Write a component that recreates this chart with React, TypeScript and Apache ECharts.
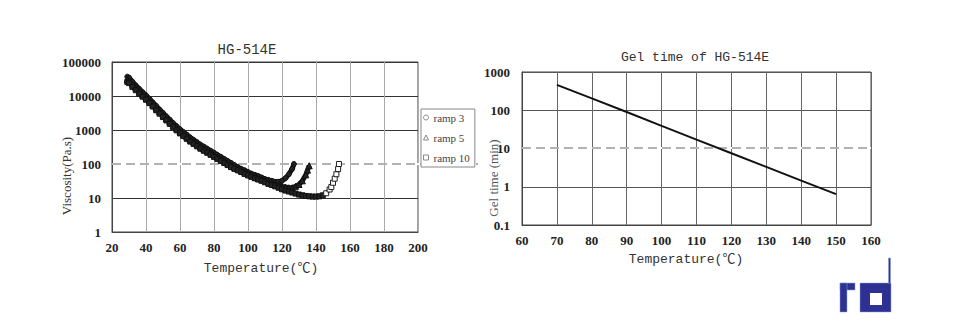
import React, { useEffect, useRef } from "react";
import * as echarts from "echarts";

// ---------- Viscosity chart data (left) ----------
const viscXTicks = [20, 40, 60, 80, 100, 120, 140, 160, 180, 200];
const viscYTicks = ["1", "10", "100", "1000", "10000", "100000"];

const ramp3Temp = [29, 30, 32, 34, 36, 38, 40, 42, 44, 46, 48, 50, 52, 54, 56, 58, 60, 62, 64, 66, 68, 70, 72, 74, 76, 78, 80, 82, 84, 86, 88, 90, 92, 94, 96, 98, 100, 102, 104, 106, 108, 110, 112, 114, 116, 118, 120, 122, 124, 126, 127];
const ramp3Visc = [37000, 34700, 26300, 20400, 16200, 12900, 10500, 8300, 6460, 5130, 3980, 3160, 2510, 2000, 1580, 1290, 1050, 870, 724, 603, 513, 437, 372, 324, 282, 245, 214, 186, 162, 141, 123, 107, 93, 81, 72, 65, 58, 52, 48, 44, 40, 36, 34, 32, 30, 30, 32, 38, 50, 72, 100];

const ramp5Temp = [29, 30, 32, 34, 36, 38, 40, 42, 44, 46, 48, 50, 52, 54, 56, 58, 60, 62, 64, 66, 68, 70, 72, 74, 76, 78, 80, 82, 84, 86, 88, 90, 92, 94, 96, 98, 100, 102, 104, 106, 108, 110, 112, 114, 116, 118, 120, 122, 124, 126, 128, 130, 132, 134, 135, 136];
const ramp5Visc = [31000, 28800, 22400, 17400, 13800, 11200, 9120, 7240, 5620, 4470, 3470, 2750, 2190, 1740, 1380, 1120, 912, 759, 631, 525, 447, 380, 324, 282, 245, 214, 186, 162, 141, 123, 107, 93, 81, 72, 65, 58, 51, 46, 42, 38, 35, 32, 30, 28, 26, 24, 22, 21, 20, 20, 22, 25, 32, 48, 66, 89];

const ramp10Temp = [29, 30, 32, 34, 36, 38, 40, 42, 44, 46, 48, 50, 52, 54, 56, 58, 60, 62, 64, 66, 68, 70, 72, 74, 76, 78, 80, 82, 84, 86, 88, 90, 92, 94, 96, 98, 100, 102, 104, 106, 108, 110, 112, 114, 116, 118, 120, 122, 124, 126, 128, 130, 132, 134, 136, 138, 140, 142, 144, 146, 148, 149, 150, 151, 152, 153, 153.5];
const ramp10Visc = [26000, 24000, 18600, 14800, 11700, 9550, 7760, 6170, 4900, 3800, 3020, 2400, 1910, 1510, 1200, 977, 794, 661, 550, 457, 389, 331, 282, 245, 214, 186, 162, 141, 123, 107, 93, 81, 72, 65, 58, 51, 46, 42, 38, 35, 32, 29, 26, 24, 22, 20, 18, 16.6, 15.5, 14.5, 13.5, 12.6, 12, 11.5, 11.2, 11, 11, 11.2, 12, 13.8, 17.8, 21, 28, 37, 50, 71, 100];

const rampNames = ["ramp 3", "ramp 5", "ramp 10"];

// ---------- Gel time chart data (right) ----------
const gelXTicks = [60, 70, 80, 90, 100, 110, 120, 130, 140, 150, 160];
const gelYTicks = ["0.1", "1", "10", "100", "1000"];
const gelTemp = [70, 80, 90, 100, 110, 120, 130, 140, 150];
const gelTime = [460, 205, 90, 39, 17, 7.5, 3.3, 1.45, 0.64];

const pair = (xs: number[], ys: number[]) => xs.map((x, i) => [x, ys[i]]);

const SERIF = "'Liberation Serif', 'DejaVu Serif', serif";
const MONO = "'Liberation Mono', 'DejaVu Sans Mono', 'Noto Sans CJK SC', monospace";

export default function App() {
  const ref = useRef<HTMLDivElement>(null);

  useEffect(() => {
    document.body.style.margin = "0";
    if (!ref.current) return;
    const chart = echarts.init(ref.current, null, { renderer: "svg" });

    const labelStyle = { fontFamily: SERIF, fontSize: 13, color: "#222", fontWeight: "bold" as const };
    const fmtLog = (ticks: string[]) => (v: number) => {
      const match = ticks.find((t) => Math.abs(parseFloat(t) - v) < 1e-9 * Math.max(1, v));
      return match ?? String(v);
    };

    // ramp 10: the rising (cure) end shows separate hollow squares
    const ramp10Data = ramp10Temp.map((t, i) =>
      t >= 146
        ? { value: [t, ramp10Visc[i]], itemStyle: { color: "#fff", borderColor: "#222", borderWidth: 1 } }
        : { value: [t, ramp10Visc[i]] }
    );

    const option: any = {
      animation: false,
      backgroundColor: "#ffffff",
      grid: [
        { left: 112, top: 62, width: 306, height: 170, show: true, borderColor: "#444", borderWidth: 1, backgroundColor: "transparent" },
        { left: 522, top: 72, width: 349, height: 153, show: true, borderColor: "#444", borderWidth: 1, backgroundColor: "transparent" },
      ],
      xAxis: [
        {
          type: "value", gridIndex: 0, min: viscXTicks[0], max: viscXTicks[viscXTicks.length - 1], interval: 20,
          axisLine: { show: true, lineStyle: { color: "#444" } }, axisTick: { show: false },
          axisLabel: { ...labelStyle, margin: 9 },
          splitLine: { show: true, lineStyle: { color: "#aaa", width: 1 } },
        },
        {
          type: "value", gridIndex: 1, min: gelXTicks[0], max: gelXTicks[gelXTicks.length - 1], interval: 10,
          axisLine: { show: true, lineStyle: { color: "#444" } }, axisTick: { show: false },
          axisLabel: { ...labelStyle, margin: 9 },
          splitLine: { show: true, lineStyle: { color: "#666", width: 1 } },
        },
      ],
      yAxis: [
        {
          type: "log", logBase: 10, gridIndex: 0, min: 1, max: 100000,
          axisLine: { show: true, lineStyle: { color: "#444" } }, axisTick: { show: false },
          axisLabel: { ...labelStyle, margin: 11, formatter: fmtLog(viscYTicks) },
          splitLine: { show: true, lineStyle: { color: "#333", width: 1 } },
        },
        {
          type: "log", logBase: 10, gridIndex: 1, min: 0.1, max: 1000,
          axisLine: { show: true, lineStyle: { color: "#444" } }, axisTick: { show: false },
          axisLabel: { ...labelStyle, margin: 12, formatter: fmtLog(gelYTicks) },
          splitLine: { show: true, lineStyle: { color: "#555", width: 1 } },
        },
      ],
      legend: {
        orient: "vertical", left: 421, top: 109,
        backgroundColor: "#fff", borderColor: "#888", borderWidth: 1,
        padding: [3, 5, 4, 2], itemGap: 9, itemWidth: 5, itemHeight: 5,
        textStyle: { fontFamily: SERIF, fontSize: 11, color: "#444" },
        itemStyle: { color: "#fff", borderColor: "#888", borderWidth: 1 },
        data: [
          { name: rampNames[0], icon: "circle" },
          { name: rampNames[1], icon: "triangle" },
          { name: rampNames[2], icon: "rect" },
        ],
      },
      series: [
        {
          name: rampNames[0], type: "line", xAxisIndex: 0, yAxisIndex: 0,
          data: pair(ramp3Temp, ramp3Visc), symbol: "circle", symbolSize: 5,
          itemStyle: { color: "#222", borderColor: "#111", borderWidth: 1 },
          lineStyle: { color: "#111", width: 5 }, z: 3,
        },
        {
          name: rampNames[1], type: "line", xAxisIndex: 0, yAxisIndex: 0,
          data: pair(ramp5Temp, ramp5Visc), symbol: "triangle", symbolSize: 6,
          itemStyle: { color: "#222", borderColor: "#111", borderWidth: 1 },
          lineStyle: { color: "#111", width: 5 }, z: 3,
        },
        {
          name: rampNames[2], type: "line", xAxisIndex: 0, yAxisIndex: 0,
          data: ramp10Data, symbol: "rect", symbolSize: 5,
          itemStyle: { color: "#222", borderColor: "#111", borderWidth: 1 },
          lineStyle: { color: "#111", width: 4 }, z: 3,
        },
        {
          name: "Gel time", type: "line", xAxisIndex: 1, yAxisIndex: 1,
          data: pair(gelTemp, gelTime), symbol: "none",
          lineStyle: { color: "#111", width: 2 }, z: 3,
        },
      ],
      graphic: [
        // dashed light reference lines
        { type: "line", z: 1, shape: { x1: 112, y1: 164, x2: 478, y2: 164 }, style: { stroke: "#fff", lineWidth: 2 } },
        { type: "line", z: 1, shape: { x1: 112, y1: 164, x2: 478, y2: 164 }, style: { stroke: "#999", lineWidth: 1.5, lineDash: [9, 5] } },
        { type: "line", z: 1, shape: { x1: 522, y1: 148, x2: 871, y2: 148 }, style: { stroke: "#fff", lineWidth: 2 } },
        { type: "line", z: 1, shape: { x1: 522, y1: 148, x2: 871, y2: 148 }, style: { stroke: "#999", lineWidth: 1.5, lineDash: [9, 5] } },
        // titles
        { type: "text", x: 247, y: 50, style: { text: "HG-514E", font: `14px ${MONO}`, fill: "#333", align: "center", verticalAlign: "middle" } },
        { type: "text", x: 695, y: 57, style: { text: "Gel time of HG-514E", font: `13px ${MONO}`, fill: "#333", align: "center", verticalAlign: "middle" } },
        // axis names
        { type: "text", x: 261, y: 268, style: { text: "Temperature(℃)", font: `13px ${MONO}`, fill: "#333", align: "center", verticalAlign: "middle" } },
        { type: "text", x: 686, y: 259, style: { text: "Temperature(℃)", font: `13px ${MONO}`, fill: "#333", align: "center", verticalAlign: "middle" } },
        { type: "text", x: 66, y: 176, rotation: Math.PI / 2, style: { text: "Viscosity(Pa.s)", font: `13px ${SERIF}`, fill: "#333", align: "center", verticalAlign: "middle" } },
        { type: "text", x: 493, y: 178, rotation: Math.PI / 2, style: { text: "Gel time (min)", font: `13px ${SERIF}`, fill: "#555", align: "center", verticalAlign: "middle" } },
        // logo
        { type: "rect", shape: { x: 840, y: 283, width: 15, height: 7 }, style: { fill: "#2e3192", stroke: "#8fa0d8", lineWidth: 0.5 } },
        { type: "rect", shape: { x: 840, y: 283, width: 7, height: 29 }, style: { fill: "#2e3192", stroke: "#8fa0d8", lineWidth: 0.5 } },
        { type: "rect", shape: { x: 860, y: 283, width: 31, height: 29 }, style: { fill: "#2e3192", stroke: "#8fa0d8", lineWidth: 0.5 } },
        { type: "rect", shape: { x: 870, y: 293, width: 12, height: 12 }, style: { fill: "#fff" } },
        { type: "rect", shape: { x: 888.5, y: 258, width: 2, height: 25 }, style: { fill: "#2e3192", stroke: "#8fa0d8", lineWidth: 0.5 } },
      ],
    };

    chart.setOption(option);
    return () => chart.dispose();
  }, []);

  return <div ref={ref} style={{ width: 960, height: 327 }} />;
}
